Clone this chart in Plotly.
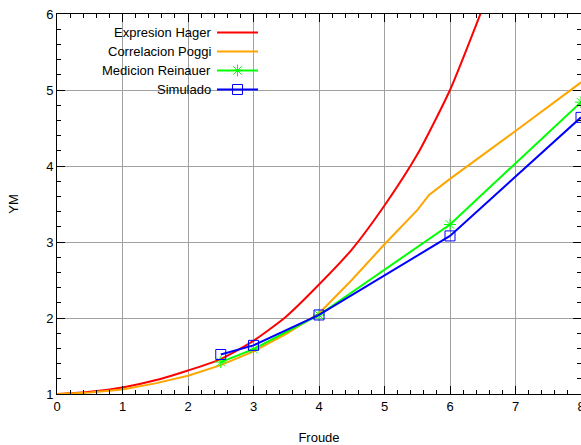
import plotly.graph_objects as go

# ---- data ----
hager_x = [0, 0.5, 1, 1.5, 2, 2.5, 3, 3.5, 4, 4.5, 5, 5.5, 6, 6.5]
hager_y = [1.0, 1.03, 1.085, 1.18, 1.31, 1.46, 1.7, 2.02, 2.44, 2.9, 3.48, 4.15, 5.0, 6.08]

poggi_x = [0, 0.5, 1, 1.5, 2, 2.5, 3, 3.5, 4, 4.5, 5, 5.5, 5.68, 6, 7, 8]
poggi_y = [1.0, 1.02, 1.06, 1.14, 1.24, 1.38, 1.56, 1.79, 2.06, 2.5, 2.97, 3.42, 3.62, 3.83, 4.46, 5.1]

reinauer_x = [2.5, 3, 4, 6, 8]
reinauer_y = [1.42, 1.59, 2.04, 3.23, 4.84]

sim_x = [2.5, 3, 4, 6, 8]
sim_y = [1.52, 1.64, 2.04, 3.08, 4.64]

series_names = ["Expresion Hager", "Correlacion Poggi", "Medicion Reinauer", "Simulado"]
x_ticks = [0, 1, 2, 3, 4, 5, 6, 7, 8]
y_ticks = [1, 2, 3, 4, 5, 6]

FONT = "Liberation Sans, Arial, sans-serif"
FS = 13

fig = go.Figure()
fig.add_trace(go.Scatter(x=hager_x, y=hager_y, mode="lines", name="",
                         line=dict(color="#ff0000", width=2, shape="spline", smoothing=0.6)))
fig.add_trace(go.Scatter(x=poggi_x, y=poggi_y, mode="lines", name="",
                         line=dict(color="#ffa500", width=2)))
fig.add_trace(go.Scatter(x=reinauer_x, y=reinauer_y, mode="lines+markers", name="",
                         line=dict(color="#00ff00", width=2),
                         marker=dict(symbol="asterisk-open", size=10,
                                     line=dict(color="#00ff00", width=1))))
fig.add_trace(go.Scatter(x=sim_x, y=sim_y, mode="lines+markers", name="",
                         line=dict(color="#0000ff", width=2),
                         marker=dict(symbol="square-open", size=10, color="#0000ff",
                                     line=dict(color="#0000ff", width=1))))

W, H = 581, 445
L, R, T, B = 57, 0, 14, 51
pw, ph = W - L - R, H - T - B

def px_x(p):  # window pixel -> paper
    return (p - L) / pw

def px_y(p):
    return (H - B - p) / ph

# white area behind legend covering grid
fig.add_shape(type="rect", xref="paper", yref="paper",
              x0=0, x1=px_x(267), y0=px_y(97), y1=1,
              fillcolor="white", line=dict(width=0), layer="between")

row_y = [32.7, 51.7, 70.7, 89.7]
for name, yy in zip(series_names, row_y):
    fig.add_annotation(xref="paper", yref="paper", x=px_x(213), y=px_y(yy),
                       text=name, showarrow=False, xanchor="right", yanchor="middle",
                       font=dict(family=FONT, size=FS, color="black"))

axis_common = dict(
    showline=True, linecolor="black", linewidth=1, mirror="ticks",
    ticks="inside", ticklen=8, tickcolor="black", tickwidth=1,
    showgrid=True, gridcolor="#a0a0a0", gridwidth=1,
    zeroline=False, automargin=False, ticklabeloverflow="allow",
    tickfont=dict(family=FONT, size=FS, color="black"),
    minor=dict(ticks="inside", ticklen=4, tickcolor="black", showgrid=False),
)

fig.update_xaxes(range=[0, 8], tickvals=x_ticks, ticktext=[str(v) for v in x_ticks],
                 minor_dtick=0.2,
                 title=dict(text="Froude", font=dict(family=FONT, size=FS, color="black"), standoff=20),
                 **axis_common)
fig.update_yaxes(range=[1, 6], tickvals=y_ticks, ticktext=[str(v) for v in y_ticks],
                 minor_dtick=0.2,
                 title=dict(text="YM", font=dict(family=FONT, size=FS, color="black"), standoff=24),
                 **axis_common)

fig.update_layout(
    width=W, height=H,
    margin=dict(l=L, r=R, t=T, b=B, autoexpand=False),
    paper_bgcolor="white", plot_bgcolor="white",
    font=dict(family=FONT, size=FS, color="black"),
    showlegend=True, hovermode=False,
    legend=dict(x=px_x(212), y=px_y(18), xanchor="left", yanchor="top",
                bgcolor="rgba(0,0,0,0)", borderwidth=0,
                font=dict(family=FONT, size=10), itemwidth=41,
                tracegroupgap=0),
)

fig.write_html("out.html", config={"displayModeBar": False, "staticPlot": True},
               post_script="document.body.style.margin='0';document.body.style.overflow='hidden';")
